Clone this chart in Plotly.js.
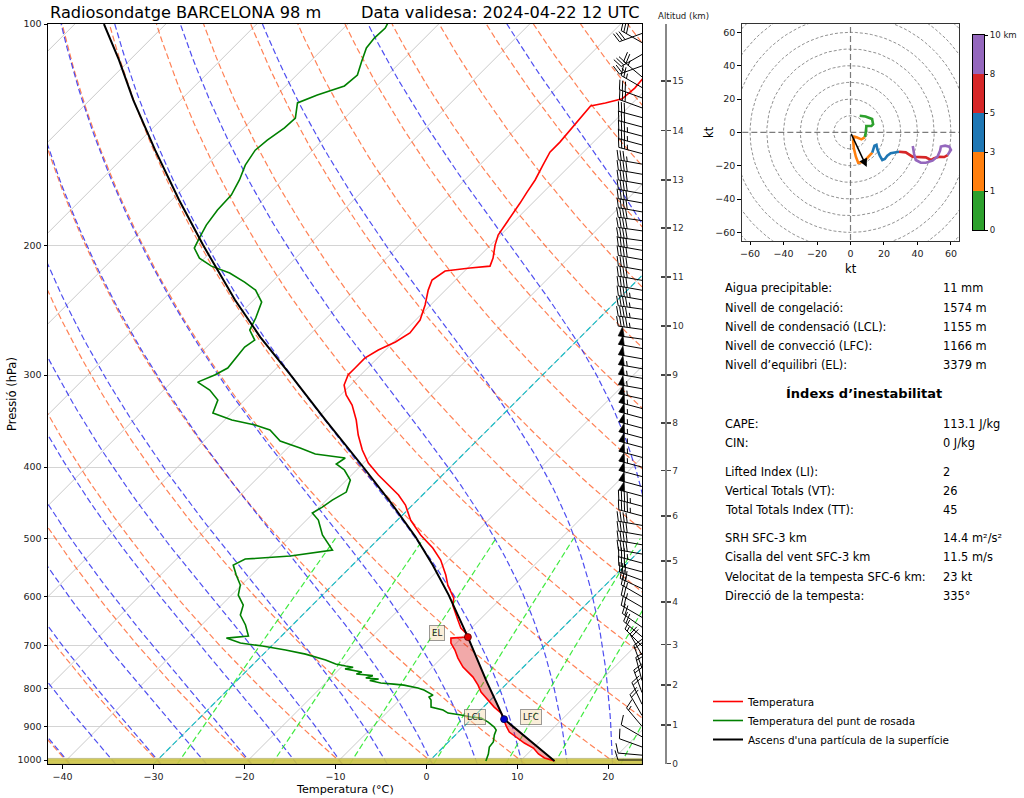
<!DOCTYPE html>
<html><head><meta charset="utf-8">
<script src="https://cdn.plot.ly/plotly-3.0.1.min.js"></script>
<style>html,body{margin:0;padding:0;background:#fff}#chart{width:1024px;height:798px}</style>
</head><body><div id="chart"></div>
<script>
// ================= DATA =================
const tempP = [1003,993.8,981.4,963.2,948.3,930.7,916.3,899.3,882.6,863.5,847.4,829.1,808.6,791.1,771.6,747.8,727.0,709.0,693.6,682.9,680.8,672.3,661.9,645.5,631.5,616.0,602.6,578.5,560.7,535.0,515.1,494.6,472.0,450.4,436.4,425.7,410.0,394.9,379.2,361.8,345.2,329.4,319.2,309.4,299.9,293.4,284.4,277.3,270.4,262.9,252.5,240.9,229.9,222.8,216.6,214.6,213.3,208.0,199.7,193.5,187.6,180.6,175.1,169.2,162.9,155.5,149.3,144.7,139.3,134.2,129.2,128.0,126.4,122.2,117.7,105];
const tempT = [13.75,12.32,11.22,10.0,8.46,6.92,5.60,4.61,3.72,2.62,1.19,-0.24,-1.90,-3.00,-4.43,-6.63,-8.18,-9.39,-10.60,-11.15,-9.5,-10.05,-11.15,-12.36,-13.36,-14.57,-15.23,-17.32,-18.64,-20.85,-23.05,-25.81,-28.56,-30.77,-32.64,-34.40,-37.05,-39.47,-41.56,-43.66,-45.53,-47.63,-49.39,-50.71,-51.37,-51.37,-51.4,-50.8,-49.8,-49.2,-49.5,-50.6,-51.9,-52.58,-52.14,-49.72,-47.74,-48.29,-49.50,-50.27,-50.60,-51.04,-51.37,-51.81,-52.25,-53.03,-53.69,-53.69,-53.91,-54.1,-54.3,-53.0,-51.6,-51.4,-51.6,-53.0];

const dewP = [1003,990.6,981.4,960.2,945.3,924.8,910.6,902.0,888.1,877.1,874.3,868.9,863.5,855.4,850.1,847.4,829.1,821.3,816.2,808.6,803.5,798.5,796.0,791.1,788.6,786.1,780,776,773.9,768,764,759.5,752,748,745.4,740.8,731.6,718.0,709.0,700.2,693.6,682.9,678.6,655.5,635.4,616.0,597.0,578.5,560.7,543.4,533.3,528.3,518.5,494.6,472.0,461.8,453.3,443.5,432.5,416.5,403.6,396.1,388.8,383.9,376.8,368.6,356.2,350.6,345.2,337.7,324.3,314.3,306.6,299.9,293.4,284.4,274.8,268.8,260.5,250.9,238.7,229.9,224.2,217.9,213.3,208.0,201.6,195.4,187.6,178.9,170.8,162.9,155.5,148.4,143.8,138.4,134.2,128.0,124.9,121.4,117.3,112.6,107.8,104.5,101.3,99.4];
const dewT = [6.2,5.93,5.71,5.05,4.94,4.28,3.94,3.39,2.18,0.97,-0.24,-1.56,-3.22,-4.10,-5.09,-5.75,-6.52,-7.07,-6.85,-7.74,-8.40,-9.28,-9.94,-11.15,-12.37,-13.91,-15.4,-14.6,-16.11,-15.6,-17.6,-17.2,-19.4,-18.7,-19.64,-20.96,-22.50,-25.37,-28.01,-30.99,-33.74,-35.83,-33.63,-35.17,-36.83,-37.60,-39.25,-40.13,-41.68,-43.11,-42.45,-37.82,-33.85,-36.61,-38.70,-40.13,-39.69,-39.36,-38.70,-39.58,-41.34,-42.89,-42.56,-46.30,-48.62,-51.59,-53.91,-56.11,-59.20,-62.06,-62.94,-64.93,-67.13,-66.03,-65.37,-65.59,-65.81,-65.48,-67.13,-67.79,-68.89,-70.88,-72.97,-75.61,-78.37,-80.57,-82.23,-82.78,-83.44,-83.88,-83.99,-84.76,-85.75,-86.30,-86.08,-85.53,-85.42,-86.85,-85.53,-83.55,-83.33,-84.32,-85.31,-85.53,-85.42,-85.75];

const parcelP = [1003,880,778.8,680.8,597.0,543.4,497.7,446.2,398.6,345.2,299.0,266.3,237.1,199.7,173.4,148.4,126.9,111.9,100];
const parcelT = [13.75,3.61,-2.67,-9.39,-16.11,-21.18,-26.14,-32.75,-39.80,-48.9,-57.87,-65.2,-72.05,-81.6,-89.2,-97.3,-105.2,-111.2,-116.8];

const lclP = 880, lclT = 3.61;   // LCL / LFC
const elP = 680.8, elT = -9.39;  // EL
const groundTopP = 995;          // surface band

// wind profile (direction from, deg; speed kt)
const windP = [1000,985,960,930,900,870,840,810,780,750,720,700,680,660,640,620,600,585,570,555,540,525,510,495,480,466,452,438,425,412,400,388,376,365,354,343,333,323,313,303,294,285,276,268,260,252,244,237,230,223,216,209,203,197,191,185,180,175,170,165,160,155,150,146,142,138,134,130,126,122,118,114,110,106,103];
const windDir = [270,275,290,300,320,330,335,340,345,340,330,315,310,305,300,300,300,295,290,285,285,280,280,280,280,285,285,285,285,285,285,285,285,285,285,285,285,282,280,280,280,280,280,278,278,278,278,280,280,280,280,280,280,278,278,278,280,280,280,280,280,280,285,285,285,285,285,290,290,300,310,250,240,300,250];
const windSpd = [10,10,10,12,15,18,20,20,20,20,18,15,18,20,22,25,25,28,30,30,35,38,40,40,42,45,45,48,50,52,55,55,55,55,55,55,55,55,55,55,55,52,50,50,45,45,45,45,42,42,40,40,40,40,40,40,40,40,38,38,38,35,35,35,35,32,32,30,28,25,25,25,28,30,30];

// altitude axis
const altKm = [0,1,2,3,4,5,6,7,8,9,10,11,12,13,14,15];
const altP  = [1011.0,896.4,791.0,696.8,610.0,536.6,466.1,404.3,348.5,299.9,257.2,220.7,189.3,162.9,139.5,119.5];

// hodograph (kt), by height layer
const hodoGreenU  = [5.5,9,12.9,13.5,12.5,9.5,9.1,8.8,8.5];
const hodoGreenV  = [10,9.5,8,4.8,3.9,3.8,-0.2,-2,-3];
const hodoOrangeU = [8.5,6.5,3.6,2.2,1.6,2,3.2,4.6,7.9,10.5,13];
const hodoOrangeV = [-3,-4.2,-3,-2.6,-5,-9.6,-14.6,-18.2,-17.6,-14.6,-12.2];
const hodoBlueU   = [13,14.3,15.5,16,17.5,19,20.5,22,24,27,29];
const hodoBlueV   = [-12.2,-8,-7.5,-10,-14,-16.6,-16,-14,-12.5,-11.8,-11.6];
const hodoRedU    = [29,33,37,41,45,48,50,53,56,58];
const hodoRedV    = [-11.6,-12,-14.6,-14.8,-15,-16.6,-15.5,-14.6,-14.8,-13.6];
const hodoPurpleU = [58,60,59,56.5,54,53.5,52,49,45,42,39,38,37.2];
const hodoPurpleV = [-13.6,-10.5,-8.6,-8,-8.5,-11,-14.5,-17,-18.2,-18.2,-16.6,-13,-8.2];
const stormU = 9.7, stormV = -20.8;
const hodoLayerLabels = ['0','1','3','5','8','10 km'];

// statistics
const statLabels1 = ['Aigua precipitable:','Nivell de congelació:','Nivell de condensació (LCL):','Nivell de convecció (LFC):','Nivell d’equilibri (EL):'];
const statValues1 = ['11 mm','1574 m','1155 m','1166 m','3379 m'];
const statHeading = 'Índexs d’inestabilitat';
const statLabels2 = ['CAPE:','CIN:','Lifted Index (LI):','Vertical Totals (VT):','Total Totals Index (TT):','SRH SFC-3 km','Cisalla del vent SFC-3 km','Velocitat de la tempesta SFC-6 km:','Direcció de la tempesta:'];
const statValues2 = ['113.1 J/kg','0 J/kg','2','26','45','14.4 m²/s²','11.5 m/s','23 kt','335°'];

const titleLeft = 'Radiosondatge BARCELONA 98 m';
const titleRight = 'Data validesa: 2024-04-22 12 UTC';

// ================= GEOMETRY =================
const W = 1024, H = 798;
const XMIN = -41.6, XMAX = 23.7, PBOT = 1012.6, PTOP = 100;
const PL = 48, PR = 642, PT = 24, PB = 764;
const pxPerDeg = (PR - PL) / (XMAX - XMIN);
const pxPerDec = (PB - PT) / Math.log10(PBOT / PTOP);
const K = pxPerDec / pxPerDeg;            // 45 degree skew
const skx = (T, p) => T + K * Math.log10(PBOT / p);
const FONT = 'DejaVu Sans, Liberation Sans, sans-serif';

const traces = [];
function line(xs, ys, color, width, dash, extra) {
  traces.push(Object.assign({type:'scatter', mode:'lines', x:xs, y:ys,
    line:{color:color, width:width, dash:dash||'solid'}, hoverinfo:'skip', showlegend:false}, extra||{}));
}

// line pressure grid
const gridP = [];
for (let i = 0; i <= 90; i++) gridP.push(PBOT * Math.pow(PTOP / PBOT, i / 90));

// isotherms
{
  const xs = [], ys = [];
  for (let T = -130; T <= 30; T += 10) { xs.push(skx(T, PBOT), skx(T, PTOP), null); ys.push(PBOT, PTOP, null); }
  line(xs, ys, '#c9c9c9', 1);
}
// dry adiabats
{
  const xs = [], ys = [];
  for (let th = 233; th < 533; th += 10) {
    gridP.forEach(p => { xs.push(skx(th * Math.pow(p / 1000, 0.2857) - 273.15, p)); ys.push(p); });
    xs.push(null); ys.push(null);
  }
  line(xs, ys, 'rgba(255,80,20,0.72)', 1.2, '6px,3px');
}
// moist adiabats
const Rd = 287.04749, Cp = 1004.6662, Lv = 2.50084e6, EPS = 0.62196;
function esat(Tk) { const tc = Tk - 273.15; return 6.112 * Math.exp(17.67 * tc / (tc + 243.5)); }
function dT(lnp, T) { const p = Math.exp(lnp); const es = esat(T); const rs = EPS * es / (p - es);
  return (Rd * T + Lv * rs) / (Cp + Lv * Lv * rs * EPS / (Rd * T * T)); }
function moistT(t0, p) {
  let T = t0 + 273.15; const a = Math.log(1000), b = Math.log(p);
  const n = Math.max(1, Math.ceil(Math.abs(b - a) / 0.01)); const h = (b - a) / n; let x = a;
  for (let i = 0; i < n; i++) {
    const k1 = dT(x, T), k2 = dT(x + h / 2, T + h * k1 / 2), k3 = dT(x + h / 2, T + h * k2 / 2), k4 = dT(x + h, T + h * k3);
    T += h * (k1 + 2 * k2 + 2 * k3 + k4) / 6; x += h;
  }
  return T - 273.15;
}
{
  const xs = [], ys = [];
  for (let t0 = -40; t0 <= 45; t0 += 5) {
    gridP.forEach(p => { xs.push(skx(moistT(t0, p), p)); ys.push(p); });
    xs.push(null); ys.push(null);
  }
  line(xs, ys, 'rgba(20,20,235,0.75)', 1.2, '6px,3px');
}
// mixing ratio lines
{
  const ws = [0.0004, 0.001, 0.002, 0.004, 0.007, 0.01, 0.016, 0.024, 0.032];
  const mp = []; for (let i = 0; i <= 30; i++) mp.push(PBOT * Math.pow(500 / PBOT, i / 30));
  const xs = [], ys = [];
  ws.forEach(w => {
    mp.forEach(p => { const e = w * p / (EPS + w); const a = Math.log(e / 6.112);
      xs.push(skx(243.5 * a / (17.67 - a), p)); ys.push(p); });
    xs.push(null); ys.push(null);
  });
  line(xs, ys, 'rgba(30,230,30,0.85)', 1.2, '6px,3px');
}
// highlighted isotherms 0 and -30
{
  const xs = [], ys = [];
  [0, -30].forEach(T => { xs.push(skx(T, PBOT), skx(T, PTOP), null); ys.push(PBOT, PTOP, null); });
  line(xs, ys, 'rgba(15,185,195,0.95)', 1.2, '6px,3px');
}
// ground band
traces.push({type:'scatter', mode:'lines', x:[XMIN, XMAX, XMAX, XMIN], y:[groundTopP, groundTopP, PBOT, PBOT],
  fill:'toself', fillcolor:'rgba(205,196,70,0.9)', line:{color:'rgba(150,150,100,0.6)', width:0.8}, hoverinfo:'skip', showlegend:false});

// CAPE shading
{
  const xs = [], ys = [];
  parcelP.forEach((p, i) => { if (p >= elP) { xs.push(skx(parcelT[i], p)); ys.push(p); } });
  for (let i = tempP.length - 1; i >= 0; i--) if (tempP[i] >= elP) { xs.push(skx(tempT[i], tempP[i])); ys.push(tempP[i]); }
  traces.push({type:'scatter', mode:'lines', x:xs, y:ys, fill:'toself', fillcolor:'rgba(220,30,30,0.38)',
    line:{width:0}, hoverinfo:'skip', showlegend:false});
}

// profiles
traces.push({type:'scatter', mode:'lines', name:'Temperatura', legendrank:1, x:tempT.map((t, i) => skx(t, tempP[i])), y:tempP,
  line:{color:'#ff0000', width:1.6}, hoverinfo:'skip'});
traces.push({type:'scatter', mode:'lines', name:'Temperatura del punt de rosada', legendrank:2, x:dewT.map((t, i) => skx(t, dewP[i])), y:dewP,
  line:{color:'#008000', width:1.6}, hoverinfo:'skip'});
traces.push({type:'scatter', mode:'lines', name:"Ascens d'una partícula de la superfície", legendrank:3, x:parcelT.map((t, i) => skx(t, parcelP[i])), y:parcelP,
  line:{color:'#000000', width:2}, hoverinfo:'skip'});
// LCL and EL points
traces.push({type:'scatter', mode:'markers', x:[skx(lclT, lclP)], y:[lclP], marker:{color:'#0000cc', size:7, line:{color:'#000033', width:0.8}}, hoverinfo:'skip', showlegend:false});
traces.push({type:'scatter', mode:'markers', x:[skx(elT, elP)], y:[elP], marker:{color:'#e00000', size:7, line:{color:'#550000', width:0.8}}, hoverinfo:'skip', showlegend:false});

// wind barbs
{
  const BL = 24, BH = 0.4 * BL, BS = 0.125 * BL, BW = 0.25 * BL;
  const lx = [], ly = [], fx = [], fy = [];
  const toD = (p, v) => [XMAX + v[0] / pxPerDeg, p * Math.pow(10, -v[1] / pxPerDec)];
  windP.forEach((p, i) => {
    const a = windDir[i] * Math.PI / 180; const spd = Math.round(windSpd[i] / 5) * 5;
    const d = [Math.sin(a), Math.cos(a)], n = [d[1], -d[0]];
    const S = o => [d[0] * o, d[1] * o];
    const add = (A, B) => [A[0] + B[0], A[1] + B[1]];
    const sc = (A, s) => [A[0] * s, A[1] * s];
    const seg = pts => { pts.forEach(q => { const r = toD(p, q); lx.push(r[0]); ly.push(r[1]); }); lx.push(null); ly.push(null); };
    const poly = pts => { pts.forEach(q => { const r = toD(p, q); fx.push(r[0]); fy.push(r[1]); }); fx.push(null); fy.push(null); };
    seg([[0, 0], S(BL)]);
    const nf = Math.floor(spd / 50); let rem = spd - 50 * nf; const nb = Math.floor(rem / 10); const half = (rem - 10 * nb) >= 5;
    let off = BL;
    for (let k = 0; k < nf; k++) {
      if (off !== BL) off += BS / 2;
      poly([S(off), add(S(off - BW / 2), sc(n, BH)), S(off - BW)]);
      off -= BW + BS;
    }
    for (let k = 0; k < nb; k++) { seg([S(off), add(S(off + BW / 2), sc(n, BH))]); off -= BS; }
    if (half) { if (off === BL) off -= 1.5 * BS; seg([S(off), add(S(off + BW / 4), sc(n, BH / 2))]); }
  });
  line(lx, ly, '#000', 1);
  traces.push({type:'scatter', mode:'lines', x:fx, y:fy, fill:'toself', fillcolor:'#000', line:{color:'#000', width:0.6}, hoverinfo:'skip', showlegend:false});
}

// dummy traces so altitude axes render
traces.push({type:'scatter', mode:'markers', x:[0], y:[500], yaxis:'y2', marker:{opacity:0}, hoverinfo:'skip', showlegend:false});
traces.push({type:'scatter', mode:'markers', x:[0], y:[500], yaxis:'y3', marker:{opacity:0}, hoverinfo:'skip', showlegend:false});

// ================= HODOGRAPH =================
{
  const xs = [], ys = [];
  for (let r = 10; r <= 90; r += 10) {
    for (let a = 0; a <= 360; a += 3) { xs.push(r * Math.cos(a * Math.PI / 180)); ys.push(r * Math.sin(a * Math.PI / 180)); }
    xs.push(null); ys.push(null);
  }
  line(xs, ys, 'rgba(110,110,110,0.85)', 0.9, '3px,2px', {xaxis:'x5', yaxis:'y5'});
  line([-70, 70, null, 0, 0], [0, 0, null, -70, 70], 'rgba(110,110,110,0.9)', 1.2, '6px,3px', {xaxis:'x5', yaxis:'y5'});
  const segs = [[hodoGreenU, hodoGreenV, '#2ca02c'], [hodoOrangeU, hodoOrangeV, '#ff7f0e'], [hodoBlueU, hodoBlueV, '#1f77b4'],
                [hodoRedU, hodoRedV, '#d62728'], [hodoPurpleU, hodoPurpleV, '#9467bd']];
  segs.forEach(s => line(s[0], s[1], s[2], 2.6, 'solid', {xaxis:'x5', yaxis:'y5'}));
  // colorbar
  traces.push({type:'heatmap', xaxis:'x6', yaxis:'y6', z:[[0], [1], [2], [3], [4]], x:[0], y:[0, 1, 2, 3, 4], zmin:0, zmax:4,
    colorscale:[[0, '#2ca02c'], [0.125, '#2ca02c'], [0.125, '#ff7f0e'], [0.375, '#ff7f0e'], [0.375, '#1f77b4'], [0.625, '#1f77b4'],
                [0.625, '#d62728'], [0.875, '#d62728'], [0.875, '#9467bd'], [1, '#9467bd']], showscale:false, hoverinfo:'skip'});
}

// ================= LAYOUT =================
const px2x = v => v / W, px2y = v => 1 - v / H;
const ann = [];
const txt = (text, x, y, o) => ann.push(Object.assign({text:text, xref:'paper', yref:'paper', x:px2x(x), y:px2y(y),
  showarrow:false, xanchor:'left', yanchor:'middle', font:{family:FONT, size:11.4, color:'#000'}}, o || {}));

txt(titleLeft, 48, 12, {font:{family:FONT, size:16.2, color:'#000'}});
txt(titleRight, 642, 12, {xanchor:'right', font:{family:FONT, size:16.2, color:'#000'}});
txt('Altitud (km)', 683, 16, {xanchor:'center', font:{family:FONT, size:8.6, color:'#222'}});
txt('Pressió (hPa)', 12, 394, {xanchor:'center', textangle:-90, font:{family:FONT, size:11.5, color:'#000'}});
txt('Temperatura (°C)', 345, 789, {xanchor:'center', font:{family:FONT, size:11.2, color:'#000'}});
txt('kt', 850.5, 269, {xanchor:'center', font:{family:FONT, size:11.5, color:'#000'}});
txt('kt', 709, 132, {xanchor:'center', textangle:-90, font:{family:FONT, size:11.5, color:'#000'}});

const rows1 = [288, 308, 327, 346, 365];
statLabels1.forEach((s, i) => { txt(s, 723, rows1[i]); txt(statValues1[i], 941, rows1[i]); });
txt('<b>' + statHeading + '</b>', 864, 394, {xanchor:'center', font:{family:FONT, size:13, color:'#000'}});
const rows2 = [423.5, 443, 471.5, 490.5, 509.5, 537.5, 557, 576.5, 596];
statLabels2.forEach((s, i) => { txt(s, 723, rows2[i]); txt(statValues2[i], 941, rows2[i]); });

// level labels
const lab = (t, T, p, xs, ys) => ann.push({text:t, xref:'x', yref:'y', x:skx(T, p), y:Math.log10(p), xshift:xs, yshift:ys,
  showarrow:false, font:{family:FONT, size:8.6, color:'#222'}, bgcolor:'rgba(245,222,179,0.5)', bordercolor:'rgba(90,90,90,0.6)',
  borderwidth:1, borderpad:2});
lab('EL', elT, elP, -31, 4);
lab('LCL', lclT, lclP, -29, 2);
lab('LFC', lclT, lclP, 27, 2);

// storm motion arrow
ann.push({xref:'x5', yref:'y5', axref:'x5', ayref:'y5', x:stormU, y:stormV, ax:0, ay:0, text:'', showarrow:true,
  arrowhead:2, arrowsize:1.1, arrowwidth:1.5, arrowcolor:'#000'});

const tickFont = {family:FONT, size:9.5, color:'#222'};
const logRange = [Math.log10(PBOT), Math.log10(PTOP)];
const layout = {
  width:W, height:H, autosize:false, margin:{l:0, r:0, t:0, b:0}, paper_bgcolor:'#fff', plot_bgcolor:'#fff',
  font:{family:FONT},
  showlegend:true,
  legend:{x:px2x(708), y:px2y(687), xanchor:'left', yanchor:'top', font:{family:FONT, size:10.4, color:'#000'},
    bgcolor:'rgba(0,0,0,0)', itemwidth:30, tracegroupgap:0},
  xaxis:{domain:[PL / W, PR / W], range:[XMIN, XMAX], tickvals:[-40, -30, -20, -10, 0, 10, 20], ticks:'outside', ticklen:3.5,
    tickcolor:'#000', showgrid:false, zeroline:false, showline:true, mirror:true, linecolor:'#000', linewidth:1, tickfont:tickFont, anchor:'y'},
  yaxis:{domain:[1 - PB / H, 1 - PT / H], type:'log', range:logRange, tickvals:[100, 200, 300, 400, 500, 600, 700, 800, 900, 1000],
    ticktext:['100', '200', '300', '400', '500', '600', '700', '800', '900', '1000'], ticks:'outside', ticklen:3.5, tickcolor:'#000',
    showgrid:true, gridcolor:'#d4d4d4', gridwidth:1, zeroline:false, showline:true, mirror:true, linecolor:'#000', linewidth:1,
    tickfont:tickFont, anchor:'x'},
  yaxis2:{overlaying:'y', anchor:'free', position:665 / W, side:'right', type:'log', range:logRange, tickvals:altP,
    ticktext:altKm.map(String), ticks:'outside', ticklen:4, tickcolor:'#444', tickwidth:1.2, showline:true, linecolor:'#888', linewidth:1.5,
    showgrid:false, zeroline:false, tickfont:{family:FONT, size:9, color:'#333'}},
  yaxis3:{overlaying:'y', anchor:'free', position:665 / W, side:'right', type:'log', range:logRange, tickvals:altP,
    ticks:'inside', ticklen:4, tickcolor:'#444', tickwidth:1.2, showticklabels:false, showline:false, showgrid:false, zeroline:false},
  xaxis5:{domain:[741.7 / W, 959.3 / W], range:[-65, 65], anchor:'y5', tickvals:[-60, -40, -20, 0, 20, 40, 60], ticks:'outside',
    ticklen:3.5, tickcolor:'#000', showgrid:false, zeroline:false, showline:true, mirror:true, linecolor:'#333', tickfont:tickFont},
  yaxis5:{domain:[1 - 240.7 / H, 1 - 24 / H], range:[-65, 65], anchor:'x5', tickvals:[-60, -40, -20, 0, 20, 40, 60], ticks:'outside',
    ticklen:3.5, tickcolor:'#000', showgrid:false, zeroline:false, showline:true, mirror:true, linecolor:'#333', tickfont:tickFont},
  xaxis6:{domain:[973 / W, 984 / W], range:[-0.5, 0.5], anchor:'y6', showticklabels:false, ticks:'', showgrid:false, zeroline:false,
    showline:true, mirror:true, linecolor:'#000', linewidth:1},
  yaxis6:{domain:[1 - 230 / H, 1 - 35 / H], range:[-0.5, 4.5], anchor:'x6', side:'right', tickvals:[-0.5, 0.5, 1.5, 2.5, 3.5, 4.5],
    ticktext:hodoLayerLabels, ticks:'outside', ticklen:3, tickcolor:'#000', showgrid:false, zeroline:false, showline:true, mirror:true,
    linecolor:'#000', linewidth:1, tickfont:{family:FONT, size:8.6, color:'#222'}},
  annotations:ann
};
Plotly.newPlot('chart', traces, layout, {staticPlot:true, displayModeBar:false});
</script></body></html>
